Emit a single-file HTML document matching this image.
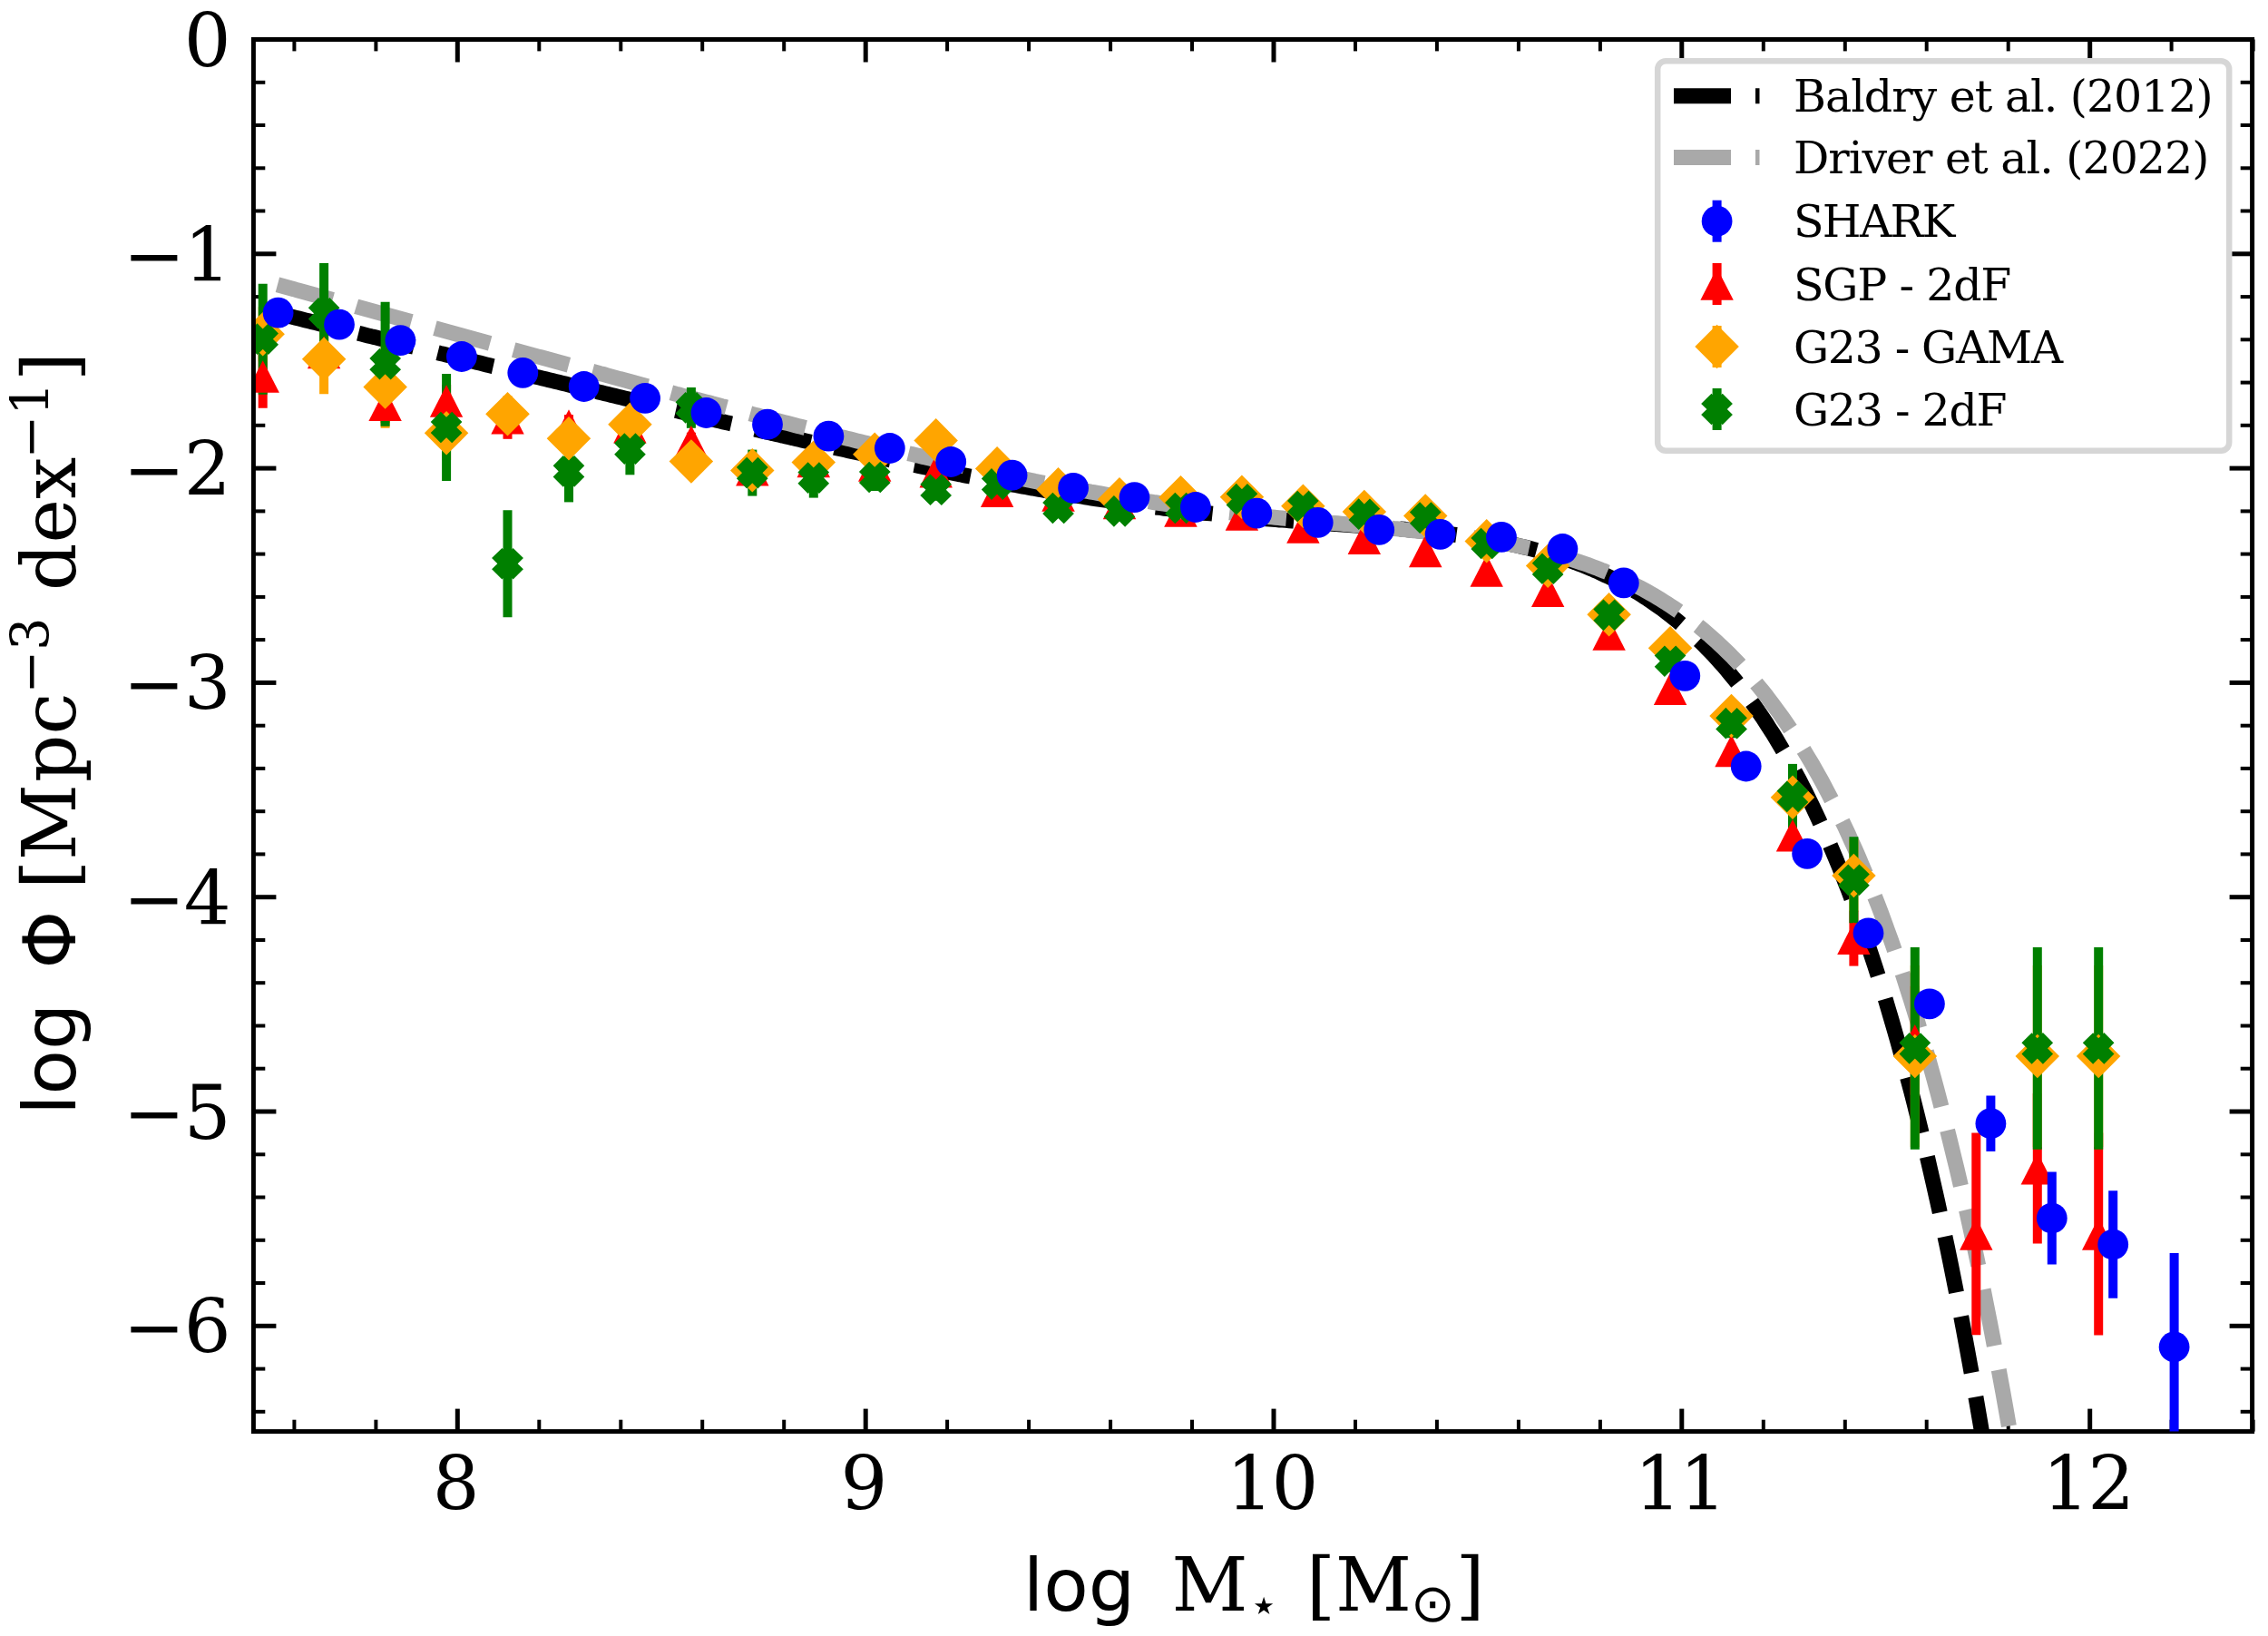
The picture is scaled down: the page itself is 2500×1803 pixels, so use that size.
<!DOCTYPE html>
<html><head><meta charset="utf-8"><title>Stellar mass function</title>
<style>html,body{margin:0;padding:0;background:#fff}svg{display:block}text{fill:#000}</style></head>
<body><svg width="2500" height="1803" viewBox="0 0 2500 1803">
<rect width="2500" height="1803" fill="#fff"/>
<defs><clipPath id="ax"><rect x="279.4" y="43.5" width="2203.2" height="1534.1"/></clipPath></defs>
<line x1="324.4" x2="324.4" y1="43.5" y2="56.4" stroke="#000" stroke-width="4.0"/>
<line x1="324.4" x2="324.4" y1="1577.6" y2="1564.6999999999998" stroke="#000" stroke-width="4.0"/>
<line x1="414.4" x2="414.4" y1="43.5" y2="56.4" stroke="#000" stroke-width="4.0"/>
<line x1="414.4" x2="414.4" y1="1577.6" y2="1564.6999999999998" stroke="#000" stroke-width="4.0"/>
<line x1="504.3" x2="504.3" y1="43.5" y2="68.5" stroke="#000" stroke-width="5.0"/>
<line x1="504.3" x2="504.3" y1="1577.6" y2="1552.6" stroke="#000" stroke-width="5.0"/>
<line x1="594.3" x2="594.3" y1="43.5" y2="56.4" stroke="#000" stroke-width="4.0"/>
<line x1="594.3" x2="594.3" y1="1577.6" y2="1564.6999999999998" stroke="#000" stroke-width="4.0"/>
<line x1="684.3" x2="684.3" y1="43.5" y2="56.4" stroke="#000" stroke-width="4.0"/>
<line x1="684.3" x2="684.3" y1="1577.6" y2="1564.6999999999998" stroke="#000" stroke-width="4.0"/>
<line x1="774.2" x2="774.2" y1="43.5" y2="56.4" stroke="#000" stroke-width="4.0"/>
<line x1="774.2" x2="774.2" y1="1577.6" y2="1564.6999999999998" stroke="#000" stroke-width="4.0"/>
<line x1="864.2" x2="864.2" y1="43.5" y2="56.4" stroke="#000" stroke-width="4.0"/>
<line x1="864.2" x2="864.2" y1="1577.6" y2="1564.6999999999998" stroke="#000" stroke-width="4.0"/>
<line x1="954.2" x2="954.2" y1="43.5" y2="68.5" stroke="#000" stroke-width="5.0"/>
<line x1="954.2" x2="954.2" y1="1577.6" y2="1552.6" stroke="#000" stroke-width="5.0"/>
<line x1="1044.1" x2="1044.1" y1="43.5" y2="56.4" stroke="#000" stroke-width="4.0"/>
<line x1="1044.1" x2="1044.1" y1="1577.6" y2="1564.6999999999998" stroke="#000" stroke-width="4.0"/>
<line x1="1134.1" x2="1134.1" y1="43.5" y2="56.4" stroke="#000" stroke-width="4.0"/>
<line x1="1134.1" x2="1134.1" y1="1577.6" y2="1564.6999999999998" stroke="#000" stroke-width="4.0"/>
<line x1="1224.1" x2="1224.1" y1="43.5" y2="56.4" stroke="#000" stroke-width="4.0"/>
<line x1="1224.1" x2="1224.1" y1="1577.6" y2="1564.6999999999998" stroke="#000" stroke-width="4.0"/>
<line x1="1314.0" x2="1314.0" y1="43.5" y2="56.4" stroke="#000" stroke-width="4.0"/>
<line x1="1314.0" x2="1314.0" y1="1577.6" y2="1564.6999999999998" stroke="#000" stroke-width="4.0"/>
<line x1="1404.0" x2="1404.0" y1="43.5" y2="68.5" stroke="#000" stroke-width="5.0"/>
<line x1="1404.0" x2="1404.0" y1="1577.6" y2="1552.6" stroke="#000" stroke-width="5.0"/>
<line x1="1494.0" x2="1494.0" y1="43.5" y2="56.4" stroke="#000" stroke-width="4.0"/>
<line x1="1494.0" x2="1494.0" y1="1577.6" y2="1564.6999999999998" stroke="#000" stroke-width="4.0"/>
<line x1="1583.9" x2="1583.9" y1="43.5" y2="56.4" stroke="#000" stroke-width="4.0"/>
<line x1="1583.9" x2="1583.9" y1="1577.6" y2="1564.6999999999998" stroke="#000" stroke-width="4.0"/>
<line x1="1673.9" x2="1673.9" y1="43.5" y2="56.4" stroke="#000" stroke-width="4.0"/>
<line x1="1673.9" x2="1673.9" y1="1577.6" y2="1564.6999999999998" stroke="#000" stroke-width="4.0"/>
<line x1="1763.9" x2="1763.9" y1="43.5" y2="56.4" stroke="#000" stroke-width="4.0"/>
<line x1="1763.9" x2="1763.9" y1="1577.6" y2="1564.6999999999998" stroke="#000" stroke-width="4.0"/>
<line x1="1853.8" x2="1853.8" y1="43.5" y2="68.5" stroke="#000" stroke-width="5.0"/>
<line x1="1853.8" x2="1853.8" y1="1577.6" y2="1552.6" stroke="#000" stroke-width="5.0"/>
<line x1="1943.8" x2="1943.8" y1="43.5" y2="56.4" stroke="#000" stroke-width="4.0"/>
<line x1="1943.8" x2="1943.8" y1="1577.6" y2="1564.6999999999998" stroke="#000" stroke-width="4.0"/>
<line x1="2033.8" x2="2033.8" y1="43.5" y2="56.4" stroke="#000" stroke-width="4.0"/>
<line x1="2033.8" x2="2033.8" y1="1577.6" y2="1564.6999999999998" stroke="#000" stroke-width="4.0"/>
<line x1="2123.7" x2="2123.7" y1="43.5" y2="56.4" stroke="#000" stroke-width="4.0"/>
<line x1="2123.7" x2="2123.7" y1="1577.6" y2="1564.6999999999998" stroke="#000" stroke-width="4.0"/>
<line x1="2213.7" x2="2213.7" y1="43.5" y2="56.4" stroke="#000" stroke-width="4.0"/>
<line x1="2213.7" x2="2213.7" y1="1577.6" y2="1564.6999999999998" stroke="#000" stroke-width="4.0"/>
<line x1="2303.7" x2="2303.7" y1="43.5" y2="68.5" stroke="#000" stroke-width="5.0"/>
<line x1="2303.7" x2="2303.7" y1="1577.6" y2="1552.6" stroke="#000" stroke-width="5.0"/>
<line x1="2393.6" x2="2393.6" y1="43.5" y2="56.4" stroke="#000" stroke-width="4.0"/>
<line x1="2393.6" x2="2393.6" y1="1577.6" y2="1564.6999999999998" stroke="#000" stroke-width="4.0"/>
<line x1="2483.6" x2="2483.6" y1="43.5" y2="56.4" stroke="#000" stroke-width="4.0"/>
<line x1="2483.6" x2="2483.6" y1="1577.6" y2="1564.6999999999998" stroke="#000" stroke-width="4.0"/>
<line x1="279.4" x2="304.4" y1="43.5" y2="43.5" stroke="#000" stroke-width="5.0"/>
<line x1="2482.6" x2="2457.6" y1="43.5" y2="43.5" stroke="#000" stroke-width="5.0"/>
<line x1="279.4" x2="292.29999999999995" y1="90.8" y2="90.8" stroke="#000" stroke-width="4.0"/>
<line x1="2482.6" x2="2469.7" y1="90.8" y2="90.8" stroke="#000" stroke-width="4.0"/>
<line x1="279.4" x2="292.29999999999995" y1="138.0" y2="138.0" stroke="#000" stroke-width="4.0"/>
<line x1="2482.6" x2="2469.7" y1="138.0" y2="138.0" stroke="#000" stroke-width="4.0"/>
<line x1="279.4" x2="292.29999999999995" y1="185.3" y2="185.3" stroke="#000" stroke-width="4.0"/>
<line x1="2482.6" x2="2469.7" y1="185.3" y2="185.3" stroke="#000" stroke-width="4.0"/>
<line x1="279.4" x2="292.29999999999995" y1="232.5" y2="232.5" stroke="#000" stroke-width="4.0"/>
<line x1="2482.6" x2="2469.7" y1="232.5" y2="232.5" stroke="#000" stroke-width="4.0"/>
<line x1="279.4" x2="304.4" y1="279.8" y2="279.8" stroke="#000" stroke-width="5.0"/>
<line x1="2482.6" x2="2457.6" y1="279.8" y2="279.8" stroke="#000" stroke-width="5.0"/>
<line x1="279.4" x2="292.29999999999995" y1="327.1" y2="327.1" stroke="#000" stroke-width="4.0"/>
<line x1="2482.6" x2="2469.7" y1="327.1" y2="327.1" stroke="#000" stroke-width="4.0"/>
<line x1="279.4" x2="292.29999999999995" y1="374.3" y2="374.3" stroke="#000" stroke-width="4.0"/>
<line x1="2482.6" x2="2469.7" y1="374.3" y2="374.3" stroke="#000" stroke-width="4.0"/>
<line x1="279.4" x2="292.29999999999995" y1="421.6" y2="421.6" stroke="#000" stroke-width="4.0"/>
<line x1="2482.6" x2="2469.7" y1="421.6" y2="421.6" stroke="#000" stroke-width="4.0"/>
<line x1="279.4" x2="292.29999999999995" y1="468.8" y2="468.8" stroke="#000" stroke-width="4.0"/>
<line x1="2482.6" x2="2469.7" y1="468.8" y2="468.8" stroke="#000" stroke-width="4.0"/>
<line x1="279.4" x2="304.4" y1="516.1" y2="516.1" stroke="#000" stroke-width="5.0"/>
<line x1="2482.6" x2="2457.6" y1="516.1" y2="516.1" stroke="#000" stroke-width="5.0"/>
<line x1="279.4" x2="292.29999999999995" y1="563.4" y2="563.4" stroke="#000" stroke-width="4.0"/>
<line x1="2482.6" x2="2469.7" y1="563.4" y2="563.4" stroke="#000" stroke-width="4.0"/>
<line x1="279.4" x2="292.29999999999995" y1="610.6" y2="610.6" stroke="#000" stroke-width="4.0"/>
<line x1="2482.6" x2="2469.7" y1="610.6" y2="610.6" stroke="#000" stroke-width="4.0"/>
<line x1="279.4" x2="292.29999999999995" y1="657.9" y2="657.9" stroke="#000" stroke-width="4.0"/>
<line x1="2482.6" x2="2469.7" y1="657.9" y2="657.9" stroke="#000" stroke-width="4.0"/>
<line x1="279.4" x2="292.29999999999995" y1="705.1" y2="705.1" stroke="#000" stroke-width="4.0"/>
<line x1="2482.6" x2="2469.7" y1="705.1" y2="705.1" stroke="#000" stroke-width="4.0"/>
<line x1="279.4" x2="304.4" y1="752.4" y2="752.4" stroke="#000" stroke-width="5.0"/>
<line x1="2482.6" x2="2457.6" y1="752.4" y2="752.4" stroke="#000" stroke-width="5.0"/>
<line x1="279.4" x2="292.29999999999995" y1="799.7" y2="799.7" stroke="#000" stroke-width="4.0"/>
<line x1="2482.6" x2="2469.7" y1="799.7" y2="799.7" stroke="#000" stroke-width="4.0"/>
<line x1="279.4" x2="292.29999999999995" y1="846.9" y2="846.9" stroke="#000" stroke-width="4.0"/>
<line x1="2482.6" x2="2469.7" y1="846.9" y2="846.9" stroke="#000" stroke-width="4.0"/>
<line x1="279.4" x2="292.29999999999995" y1="894.2" y2="894.2" stroke="#000" stroke-width="4.0"/>
<line x1="2482.6" x2="2469.7" y1="894.2" y2="894.2" stroke="#000" stroke-width="4.0"/>
<line x1="279.4" x2="292.29999999999995" y1="941.4" y2="941.4" stroke="#000" stroke-width="4.0"/>
<line x1="2482.6" x2="2469.7" y1="941.4" y2="941.4" stroke="#000" stroke-width="4.0"/>
<line x1="279.4" x2="304.4" y1="988.7" y2="988.7" stroke="#000" stroke-width="5.0"/>
<line x1="2482.6" x2="2457.6" y1="988.7" y2="988.7" stroke="#000" stroke-width="5.0"/>
<line x1="279.4" x2="292.29999999999995" y1="1036.0" y2="1036.0" stroke="#000" stroke-width="4.0"/>
<line x1="2482.6" x2="2469.7" y1="1036.0" y2="1036.0" stroke="#000" stroke-width="4.0"/>
<line x1="279.4" x2="292.29999999999995" y1="1083.2" y2="1083.2" stroke="#000" stroke-width="4.0"/>
<line x1="2482.6" x2="2469.7" y1="1083.2" y2="1083.2" stroke="#000" stroke-width="4.0"/>
<line x1="279.4" x2="292.29999999999995" y1="1130.5" y2="1130.5" stroke="#000" stroke-width="4.0"/>
<line x1="2482.6" x2="2469.7" y1="1130.5" y2="1130.5" stroke="#000" stroke-width="4.0"/>
<line x1="279.4" x2="292.29999999999995" y1="1177.7" y2="1177.7" stroke="#000" stroke-width="4.0"/>
<line x1="2482.6" x2="2469.7" y1="1177.7" y2="1177.7" stroke="#000" stroke-width="4.0"/>
<line x1="279.4" x2="304.4" y1="1225.0" y2="1225.0" stroke="#000" stroke-width="5.0"/>
<line x1="2482.6" x2="2457.6" y1="1225.0" y2="1225.0" stroke="#000" stroke-width="5.0"/>
<line x1="279.4" x2="292.29999999999995" y1="1272.3" y2="1272.3" stroke="#000" stroke-width="4.0"/>
<line x1="2482.6" x2="2469.7" y1="1272.3" y2="1272.3" stroke="#000" stroke-width="4.0"/>
<line x1="279.4" x2="292.29999999999995" y1="1319.5" y2="1319.5" stroke="#000" stroke-width="4.0"/>
<line x1="2482.6" x2="2469.7" y1="1319.5" y2="1319.5" stroke="#000" stroke-width="4.0"/>
<line x1="279.4" x2="292.29999999999995" y1="1366.8" y2="1366.8" stroke="#000" stroke-width="4.0"/>
<line x1="2482.6" x2="2469.7" y1="1366.8" y2="1366.8" stroke="#000" stroke-width="4.0"/>
<line x1="279.4" x2="292.29999999999995" y1="1414.0" y2="1414.0" stroke="#000" stroke-width="4.0"/>
<line x1="2482.6" x2="2469.7" y1="1414.0" y2="1414.0" stroke="#000" stroke-width="4.0"/>
<line x1="279.4" x2="304.4" y1="1461.3" y2="1461.3" stroke="#000" stroke-width="5.0"/>
<line x1="2482.6" x2="2457.6" y1="1461.3" y2="1461.3" stroke="#000" stroke-width="5.0"/>
<line x1="279.4" x2="292.29999999999995" y1="1508.6" y2="1508.6" stroke="#000" stroke-width="4.0"/>
<line x1="2482.6" x2="2469.7" y1="1508.6" y2="1508.6" stroke="#000" stroke-width="4.0"/>
<line x1="279.4" x2="292.29999999999995" y1="1555.8" y2="1555.8" stroke="#000" stroke-width="4.0"/>
<line x1="2482.6" x2="2469.7" y1="1555.8" y2="1555.8" stroke="#000" stroke-width="4.0"/>
<g clip-path="url(#ax)">
<polyline points="307.7,345.8 311.4,346.7 315.0,347.6 318.6,348.4 322.2,349.3 325.9,350.2 329.5,351.1 333.1,352.0 336.8,352.9 340.4,353.8 344.0,354.7 347.6,355.6 351.3,356.5 354.9,357.4 358.5,358.3 362.1,359.2 365.8,360.1 369.4,360.9 373.0,361.8 376.6,362.7 380.3,363.6 383.9,364.5 387.5,365.4 391.1,366.3 394.8,367.2 398.4,368.1 402.0,369.0 405.7,369.9 409.3,370.8 412.9,371.6 416.5,372.5 420.2,373.4 423.8,374.3 427.4,375.2 431.0,376.1 434.7,377.0 438.3,377.9 441.9,378.8 445.5,379.7 449.2,380.6 452.8,381.4 456.4,382.3 460.1,383.2 463.7,384.1 467.3,385.0 470.9,385.9 474.6,386.8 478.2,387.7 481.8,388.6 485.4,389.5 489.1,390.3 492.7,391.2 496.3,392.1 499.9,393.0 503.6,393.9 507.2,394.8 510.8,395.7 514.4,396.6 518.1,397.4 521.7,398.3 525.3,399.2 529.0,400.1 532.6,401.0 536.2,401.9 539.8,402.8 543.5,403.7 547.1,404.5 550.7,405.4 554.3,406.3 558.0,407.2 561.6,408.1 565.2,409.0 568.8,409.9 572.5,410.7 576.1,411.6 579.7,412.5 583.4,413.4 587.0,414.3 590.6,415.2 594.2,416.0 597.9,416.9 601.5,417.8 605.1,418.7 608.7,419.6 612.4,420.5 616.0,421.3 619.6,422.2 623.2,423.1 626.9,424.0 630.5,424.9 634.1,425.7 637.7,426.6 641.4,427.5 645.0,428.4 648.6,429.3 652.3,430.1 655.9,431.0 659.5,431.9 663.1,432.8 666.8,433.7 670.4,434.5 674.0,435.4 677.6,436.3 681.3,437.2 684.9,438.0 688.5,438.9 692.1,439.8 695.8,440.7 699.4,441.5 703.0,442.4 706.7,443.3 710.3,444.1 713.9,445.0 717.5,445.9 721.2,446.8 724.8,447.6 728.4,448.5 732.0,449.4 735.7,450.2 739.3,451.1 742.9,452.0 746.5,452.8 750.2,453.7 753.8,454.6 757.4,455.4 761.0,456.3 764.7,457.2 768.3,458.0 771.9,458.9 775.6,459.7 779.2,460.6 782.8,461.5 786.4,462.3 790.1,463.2 793.7,464.0 797.3,464.9 800.9,465.7 804.6,466.6 808.2,467.4 811.8,468.3 815.4,469.2 819.1,470.0 822.7,470.9 826.3,471.7 830.0,472.5 833.6,473.4 837.2,474.2 840.8,475.1 844.5,475.9 848.1,476.8 851.7,477.6 855.3,478.5 859.0,479.3 862.6,480.1 866.2,481.0 869.8,481.8 873.5,482.6 877.1,483.5 880.7,484.3 884.3,485.1 888.0,486.0 891.6,486.8 895.2,487.6 898.9,488.4 902.5,489.3 906.1,490.1 909.7,490.9 913.4,491.7 917.0,492.5 920.6,493.4 924.2,494.2 927.9,495.0 931.5,495.8 935.1,496.6 938.7,497.4 942.4,498.2 946.0,499.0 949.6,499.8 953.2,500.6 956.9,501.4 960.5,502.2 964.1,503.0 967.8,503.8 971.4,504.6 975.0,505.4 978.6,506.2 982.3,507.0 985.9,507.7 989.5,508.5 993.1,509.3 996.8,510.1 1000.4,510.8 1004.0,511.6 1007.6,512.4 1011.3,513.1 1014.9,513.9 1018.5,514.7 1022.2,515.4 1025.8,516.2 1029.4,516.9 1033.0,517.7 1036.7,518.4 1040.3,519.2 1043.9,519.9 1047.5,520.6 1051.2,521.4 1054.8,522.1 1058.4,522.8 1062.0,523.6 1065.7,524.3 1069.3,525.0 1072.9,525.7 1076.5,526.4 1080.2,527.2 1083.8,527.9 1087.4,528.6 1091.1,529.3 1094.7,530.0 1098.3,530.7 1101.9,531.3 1105.6,532.0 1109.2,532.7 1112.8,533.4 1116.4,534.1 1120.1,534.7 1123.7,535.4 1127.3,536.1 1130.9,536.7 1134.6,537.4 1138.2,538.0 1141.8,538.7 1145.5,539.3 1149.1,539.9 1152.7,540.6 1156.3,541.2 1160.0,541.8 1163.6,542.5 1167.2,543.1 1170.8,543.7 1174.5,544.3 1178.1,544.9 1181.7,545.5 1185.3,546.1 1189.0,546.7 1192.6,547.2 1196.2,547.8 1199.8,548.4 1203.5,549.0 1207.1,549.5 1210.7,550.1 1214.4,550.6 1218.0,551.2 1221.6,551.7 1225.2,552.3 1228.9,552.8 1232.5,553.3 1236.1,553.9 1239.7,554.4 1243.4,554.9 1247.0,555.4 1250.6,555.9 1254.2,556.4 1257.9,556.9 1261.5,557.4 1265.1,557.8 1268.8,558.3 1272.4,558.8 1276.0,559.2 1279.6,559.7 1283.3,560.2 1286.9,560.6 1290.5,561.0 1294.1,561.5 1297.8,561.9 1301.4,562.3 1305.0,562.8 1308.6,563.2 1312.3,563.6 1315.9,564.0 1319.5,564.4 1323.1,564.8 1326.8,565.2 1330.4,565.6 1334.0,565.9 1337.7,566.3 1341.3,566.7 1344.9,567.1 1348.5,567.4 1352.2,567.8 1355.8,568.1 1359.4,568.5 1363.0,568.8 1366.7,569.1 1370.3,569.5 1373.9,569.8 1377.5,570.1 1381.2,570.4 1384.8,570.8 1388.4,571.1 1392.1,571.4 1395.7,571.7 1399.3,572.0 1402.9,572.3 1406.6,572.6 1410.2,572.9 1413.8,573.1 1417.4,573.4 1421.1,573.7 1424.7,574.0 1428.3,574.3 1431.9,574.5 1435.6,574.8 1439.2,575.1 1442.8,575.3 1446.4,575.6 1450.1,575.9 1453.7,576.1 1457.3,576.4 1461.0,576.7 1464.6,576.9 1468.2,577.2 1471.8,577.4 1475.5,577.7 1479.1,578.0 1482.7,578.2 1486.3,578.5 1490.0,578.7 1493.6,579.0 1497.2,579.3 1500.8,579.5 1504.5,579.8 1508.1,580.1 1511.7,580.4 1515.4,580.6 1519.0,580.9 1522.6,581.2 1526.2,581.5 1529.9,581.8 1533.5,582.1 1537.1,582.4 1540.7,582.7 1544.4,583.0 1548.0,583.3 1551.6,583.7 1555.2,584.0 1558.9,584.3 1562.5,584.7 1566.1,585.0 1569.7,585.4 1573.4,585.8 1577.0,586.2 1580.6,586.6 1584.3,587.0 1587.9,587.4 1591.5,587.8 1595.1,588.2 1598.8,588.7 1602.4,589.1 1606.0,589.6 1609.6,590.1 1613.3,590.6 1616.9,591.1 1620.5,591.6 1624.1,592.2 1627.8,592.7 1631.4,593.3 1635.0,593.9 1638.7,594.5 1642.3,595.2 1645.9,595.8 1649.5,596.5 1653.2,597.2 1656.8,597.9 1660.4,598.6 1664.0,599.3 1667.7,600.1 1671.3,600.9 1674.9,601.7 1678.5,602.6 1682.2,603.4 1685.8,604.3 1689.4,605.3 1693.0,606.2 1696.7,607.2 1700.3,608.2 1703.9,609.2 1707.6,610.3 1711.2,611.4 1714.8,612.5 1718.4,613.6 1722.1,614.8 1725.7,616.1 1729.3,617.3 1732.9,618.6 1736.6,619.9 1740.2,621.3 1743.8,622.7 1747.4,624.1 1751.1,625.6 1754.7,627.1 1758.3,628.7 1762.0,630.3 1765.6,632.0 1769.2,633.7 1772.8,635.4 1776.5,637.2 1780.1,639.0 1783.7,640.9 1787.3,642.8 1791.0,644.8 1794.6,646.9 1798.2,649.0 1801.8,651.1 1805.5,653.3 1809.1,655.5 1812.7,657.9 1816.3,660.2 1820.0,662.7 1823.6,665.2 1827.2,667.7 1830.9,670.3 1834.5,673.0 1838.1,675.8 1841.7,678.6 1845.4,681.5 1849.0,684.4 1852.6,687.5 1856.2,690.6 1859.9,693.7 1863.5,697.0 1867.1,700.3 1870.7,703.8 1874.4,707.2 1878.0,710.8 1881.6,714.5 1885.3,718.2 1888.9,722.1 1892.5,726.0 1896.1,730.0 1899.8,734.1 1903.4,738.4 1907.0,742.7 1910.6,747.1 1914.3,751.6 1917.9,756.2 1921.5,760.9 1925.1,765.7 1928.8,770.7 1932.4,775.7 1936.0,780.9 1939.6,786.1 1943.3,791.5 1946.9,797.0 1950.5,802.7 1954.2,808.4 1957.8,814.3 1961.4,820.3 1965.0,826.5 1968.7,832.7 1972.3,839.2 1975.9,845.7 1979.5,852.4 1983.2,859.3 1986.8,866.3 1990.4,873.4 1994.0,880.7 1997.7,888.2 2001.3,895.8 2004.9,903.6 2008.5,911.5 2012.2,919.7 2015.8,927.9 2019.4,936.4 2023.1,945.1 2026.7,953.9 2030.3,962.9 2033.9,972.1 2037.6,981.5 2041.2,991.1 2044.8,1000.9 2048.4,1010.9 2052.1,1021.1 2055.7,1031.5 2059.3,1042.2 2062.9,1053.0 2066.6,1064.1 2070.2,1075.4 2073.8,1086.9 2077.5,1098.7 2081.1,1110.8 2084.7,1123.0 2088.3,1135.5 2092.0,1148.3 2095.6,1161.4 2099.2,1174.7 2102.8,1188.2 2106.5,1202.1 2110.1,1216.2 2113.7,1230.6 2117.3,1245.3 2121.0,1260.3 2124.6,1275.7 2128.2,1291.3 2131.8,1307.2 2135.5,1323.5 2139.1,1340.0 2142.7,1357.0 2146.4,1374.2 2150.0,1391.8 2153.6,1409.7 2157.2,1428.0 2160.9,1446.7 2164.5,1465.8 2168.1,1485.2 2171.7,1505.0 2175.4,1525.2 2179.0,1545.8 2182.6,1566.8 2186.2,1588.2 2189.9,1610.1 2193.5,1632.4 2197.1,1655.1 2200.8,1678.2 2204.4,1701.9 2208.0,1725.9 2211.6,1750.5" fill="none" stroke="#000" stroke-width="17" stroke-dasharray="63 27"/>
<polyline points="305.9,313.7 309.6,314.7 313.2,315.7 316.8,316.7 320.5,317.7 324.1,318.7 327.7,319.8 331.3,320.8 335.0,321.8 338.6,322.8 342.2,323.8 345.9,324.8 349.5,325.8 353.1,326.8 356.8,327.8 360.4,328.8 364.0,329.8 367.6,330.8 371.3,331.8 374.9,332.8 378.5,333.8 382.2,334.8 385.8,335.8 389.4,336.8 393.0,337.9 396.7,338.9 400.3,339.9 403.9,340.9 407.6,341.9 411.2,342.9 414.8,343.9 418.5,344.9 422.1,345.9 425.7,346.9 429.3,347.9 433.0,348.9 436.6,349.9 440.2,350.9 443.9,351.9 447.5,352.9 451.1,353.9 454.7,354.9 458.4,355.9 462.0,356.9 465.6,357.9 469.3,358.9 472.9,359.9 476.5,360.9 480.2,361.9 483.8,362.9 487.4,363.9 491.0,364.9 494.7,365.9 498.3,366.9 501.9,367.9 505.6,368.9 509.2,369.9 512.8,370.9 516.4,371.9 520.1,372.9 523.7,373.9 527.3,374.9 531.0,375.9 534.6,376.9 538.2,377.9 541.9,378.9 545.5,379.9 549.1,380.9 552.7,381.9 556.4,382.9 560.0,383.9 563.6,384.9 567.3,385.9 570.9,386.9 574.5,387.9 578.1,388.9 581.8,389.9 585.4,390.9 589.0,391.9 592.7,392.9 596.3,393.8 599.9,394.8 603.6,395.8 607.2,396.8 610.8,397.8 614.4,398.8 618.1,399.8 621.7,400.8 625.3,401.8 629.0,402.8 632.6,403.8 636.2,404.7 639.9,405.7 643.5,406.7 647.1,407.7 650.7,408.7 654.4,409.7 658.0,410.7 661.6,411.7 665.3,412.6 668.9,413.6 672.5,414.6 676.1,415.6 679.8,416.6 683.4,417.6 687.0,418.5 690.7,419.5 694.3,420.5 697.9,421.5 701.6,422.5 705.2,423.4 708.8,424.4 712.4,425.4 716.1,426.4 719.7,427.3 723.3,428.3 727.0,429.3 730.6,430.3 734.2,431.2 737.8,432.2 741.5,433.2 745.1,434.2 748.7,435.1 752.4,436.1 756.0,437.1 759.6,438.0 763.3,439.0 766.9,440.0 770.5,440.9 774.1,441.9 777.8,442.9 781.4,443.8 785.0,444.8 788.7,445.7 792.3,446.7 795.9,447.7 799.5,448.6 803.2,449.6 806.8,450.5 810.4,451.5 814.1,452.4 817.7,453.4 821.3,454.4 825.0,455.3 828.6,456.3 832.2,457.2 835.8,458.1 839.5,459.1 843.1,460.0 846.7,461.0 850.4,461.9 854.0,462.9 857.6,463.8 861.2,464.7 864.9,465.7 868.5,466.6 872.1,467.5 875.8,468.5 879.4,469.4 883.0,470.3 886.7,471.3 890.3,472.2 893.9,473.1 897.5,474.0 901.2,475.0 904.8,475.9 908.4,476.8 912.1,477.7 915.7,478.6 919.3,479.5 922.9,480.5 926.6,481.4 930.2,482.3 933.8,483.2 937.5,484.1 941.1,485.0 944.7,485.9 948.4,486.8 952.0,487.7 955.6,488.6 959.2,489.5 962.9,490.3 966.5,491.2 970.1,492.1 973.8,493.0 977.4,493.9 981.0,494.7 984.6,495.6 988.3,496.5 991.9,497.4 995.5,498.2 999.2,499.1 1002.8,500.0 1006.4,500.8 1010.1,501.7 1013.7,502.5 1017.3,503.4 1020.9,504.2 1024.6,505.1 1028.2,505.9 1031.8,506.8 1035.5,507.6 1039.1,508.4 1042.7,509.3 1046.4,510.1 1050.0,510.9 1053.6,511.7 1057.2,512.5 1060.9,513.4 1064.5,514.2 1068.1,515.0 1071.8,515.8 1075.4,516.6 1079.0,517.4 1082.6,518.2 1086.3,519.0 1089.9,519.8 1093.5,520.5 1097.2,521.3 1100.8,522.1 1104.4,522.9 1108.1,523.6 1111.7,524.4 1115.3,525.2 1118.9,525.9 1122.6,526.7 1126.2,527.4 1129.8,528.1 1133.5,528.9 1137.1,529.6 1140.7,530.4 1144.3,531.1 1148.0,531.8 1151.6,532.5 1155.2,533.2 1158.9,533.9 1162.5,534.6 1166.1,535.3 1169.8,536.0 1173.4,536.7 1177.0,537.4 1180.6,538.1 1184.3,538.8 1187.9,539.4 1191.5,540.1 1195.2,540.8 1198.8,541.4 1202.4,542.1 1206.0,542.7 1209.7,543.4 1213.3,544.0 1216.9,544.6 1220.6,545.3 1224.2,545.9 1227.8,546.5 1231.5,547.1 1235.1,547.7 1238.7,548.3 1242.3,548.9 1246.0,549.5 1249.6,550.1 1253.2,550.7 1256.9,551.2 1260.5,551.8 1264.1,552.4 1267.7,552.9 1271.4,553.5 1275.0,554.0 1278.6,554.6 1282.3,555.1 1285.9,555.6 1289.5,556.1 1293.2,556.7 1296.8,557.2 1300.4,557.7 1304.0,558.2 1307.7,558.7 1311.3,559.2 1314.9,559.7 1318.6,560.2 1322.2,560.6 1325.8,561.1 1329.4,561.6 1333.1,562.0 1336.7,562.5 1340.3,562.9 1344.0,563.4 1347.6,563.8 1351.2,564.3 1354.9,564.7 1358.5,565.1 1362.1,565.5 1365.7,566.0 1369.4,566.4 1373.0,566.8 1376.6,567.2 1380.3,567.6 1383.9,568.0 1387.5,568.4 1391.1,568.8 1394.8,569.1 1398.4,569.5 1402.0,569.9 1405.7,570.3 1409.3,570.6 1412.9,571.0 1416.6,571.4 1420.2,571.7 1423.8,572.1 1427.4,572.4 1431.1,572.8 1434.7,573.1 1438.3,573.5 1442.0,573.8 1445.6,574.2 1449.2,574.5 1452.8,574.8 1456.5,575.2 1460.1,575.5 1463.7,575.8 1467.4,576.2 1471.0,576.5 1474.6,576.8 1478.3,577.1 1481.9,577.5 1485.5,577.8 1489.1,578.1 1492.8,578.5 1496.4,578.8 1500.0,579.1 1503.7,579.4 1507.3,579.8 1510.9,580.1 1514.6,580.4 1518.2,580.8 1521.8,581.1 1525.4,581.5 1529.1,581.8 1532.7,582.1 1536.3,582.5 1540.0,582.8 1543.6,583.2 1547.2,583.6 1550.8,583.9 1554.5,584.3 1558.1,584.7 1561.7,585.1 1565.4,585.4 1569.0,585.8 1572.6,586.2 1576.3,586.6 1579.9,587.1 1583.5,587.5 1587.1,587.9 1590.8,588.3 1594.4,588.8 1598.0,589.2 1601.7,589.7 1605.3,590.2 1608.9,590.7 1612.5,591.2 1616.2,591.7 1619.8,592.2 1623.4,592.7 1627.1,593.3 1630.7,593.8 1634.3,594.4 1638.0,595.0 1641.6,595.6 1645.2,596.2 1648.8,596.8 1652.5,597.4 1656.1,598.1 1659.7,598.8 1663.4,599.4 1667.0,600.2 1670.6,600.9 1674.2,601.6 1677.9,602.4 1681.5,603.2 1685.1,604.0 1688.8,604.8 1692.4,605.6 1696.0,606.5 1699.7,607.4 1703.3,608.3 1706.9,609.3 1710.5,610.2 1714.2,611.2 1717.8,612.2 1721.4,613.3 1725.1,614.3 1728.7,615.4 1732.3,616.5 1735.9,617.7 1739.6,618.9 1743.2,620.1 1746.8,621.3 1750.5,622.6 1754.1,623.9 1757.7,625.3 1761.4,626.6 1765.0,628.1 1768.6,629.5 1772.2,631.0 1775.9,632.5 1779.5,634.1 1783.1,635.7 1786.8,637.3 1790.4,639.0 1794.0,640.7 1797.6,642.5 1801.3,644.3 1804.9,646.2 1808.5,648.1 1812.2,650.0 1815.8,652.0 1819.4,654.1 1823.1,656.2 1826.7,658.3 1830.3,660.5 1833.9,662.8 1837.6,665.1 1841.2,667.5 1844.8,669.9 1848.5,672.4 1852.1,674.9 1855.7,677.5 1859.3,680.2 1863.0,682.9 1866.6,685.7 1870.2,688.5 1873.9,691.4 1877.5,694.4 1881.1,697.5 1884.8,700.6 1888.4,703.8 1892.0,707.1 1895.6,710.4 1899.3,713.9 1902.9,717.4 1906.5,720.9 1910.2,724.6 1913.8,728.4 1917.4,732.2 1921.0,736.1 1924.7,740.1 1928.3,744.2 1931.9,748.4 1935.6,752.7 1939.2,757.1 1942.8,761.5 1946.5,766.1 1950.1,770.8 1953.7,775.6 1957.3,780.5 1961.0,785.4 1964.6,790.5 1968.2,795.7 1971.9,801.1 1975.5,806.5 1979.1,812.1 1982.8,817.7 1986.4,823.5 1990.0,829.5 1993.6,835.5 1997.3,841.7 2000.9,848.0 2004.5,854.4 2008.2,861.0 2011.8,867.7 2015.4,874.6 2019.0,881.6 2022.7,888.8 2026.3,896.1 2029.9,903.5 2033.6,911.1 2037.2,918.9 2040.8,926.9 2044.5,935.0 2048.1,943.2 2051.7,951.7 2055.3,960.3 2059.0,969.1 2062.6,978.1 2066.2,987.2 2069.9,996.6 2073.5,1006.1 2077.1,1015.9 2080.7,1025.8 2084.4,1035.9 2088.0,1046.3 2091.6,1056.9 2095.3,1067.6 2098.9,1078.6 2102.5,1089.9 2106.2,1101.3 2109.8,1113.0 2113.4,1124.9 2117.0,1137.1 2120.7,1149.5 2124.3,1162.1 2127.9,1175.0 2131.6,1188.2 2135.2,1201.6 2138.8,1215.3 2142.4,1229.3 2146.1,1243.6 2149.7,1258.1 2153.3,1272.9 2157.0,1288.0 2160.6,1303.5 2164.2,1319.2 2167.9,1335.3 2171.5,1351.6 2175.1,1368.3 2178.7,1385.3 2182.4,1402.7 2186.0,1420.4 2189.6,1438.5 2193.3,1456.9 2196.9,1475.6 2200.5,1494.8 2204.1,1514.3 2207.8,1534.2 2211.4,1554.5 2215.0,1575.2 2218.7,1596.3 2222.3,1617.8 2225.9,1639.7 2229.6,1662.1 2233.2,1684.9 2236.8,1708.1 2240.4,1731.8 2244.1,1756.0" fill="none" stroke="#a9a9a9" stroke-width="17" stroke-dasharray="63 27"/>
<line x1="289.7" x2="289.7" y1="380.2" y2="449.8" stroke="#ff0000" stroke-width="10.0"/>
<line x1="357.1" x2="357.1" y1="366.4" y2="410.4" stroke="#ff0000" stroke-width="10.0"/>
<line x1="424.6" x2="424.6" y1="426.2" y2="466.2" stroke="#ff0000" stroke-width="10.0"/>
<line x1="492.1" x2="492.1" y1="424.0" y2="460.0" stroke="#ff0000" stroke-width="10.0"/>
<line x1="559.5" x2="559.5" y1="437.8" y2="483.8" stroke="#ff0000" stroke-width="10.0"/>
<line x1="627.0" x2="627.0" y1="457.1" y2="481.1" stroke="#ff0000" stroke-width="10.0"/>
<line x1="694.4" x2="694.4" y1="460.6" y2="480.6" stroke="#ff0000" stroke-width="10.0"/>
<line x1="761.9" x2="761.9" y1="476.7" y2="496.7" stroke="#ff0000" stroke-width="10.0"/>
<line x1="829.3" x2="829.3" y1="509.6" y2="525.6" stroke="#ff0000" stroke-width="10.0"/>
<line x1="896.8" x2="896.8" y1="500.5" y2="516.5" stroke="#ff0000" stroke-width="10.0"/>
<line x1="964.2" x2="964.2" y1="507.0" y2="519.0" stroke="#ff0000" stroke-width="10.0"/>
<line x1="1031.7" x2="1031.7" y1="513.6" y2="525.6" stroke="#ff0000" stroke-width="10.0"/>
<line x1="1099.1" x2="1099.1" y1="536.2" y2="546.2" stroke="#ff0000" stroke-width="10.0"/>
<line x1="1166.5" x2="1166.5" y1="541.0" y2="551.0" stroke="#ff0000" stroke-width="10.0"/>
<line x1="1234.0" x2="1234.0" y1="549.5" y2="559.5" stroke="#ff0000" stroke-width="10.0"/>
<line x1="1301.5" x2="1301.5" y1="558.0" y2="568.0" stroke="#ff0000" stroke-width="10.0"/>
<line x1="1368.9" x2="1368.9" y1="562.0" y2="572.0" stroke="#ff0000" stroke-width="10.0"/>
<line x1="1436.4" x2="1436.4" y1="576.0" y2="586.0" stroke="#ff0000" stroke-width="10.0"/>
<line x1="1503.8" x2="1503.8" y1="588.3" y2="598.3" stroke="#ff0000" stroke-width="10.0"/>
<line x1="1571.2" x2="1571.2" y1="602.4" y2="612.4" stroke="#ff0000" stroke-width="10.0"/>
<line x1="1638.7" x2="1638.7" y1="624.0" y2="634.0" stroke="#ff0000" stroke-width="10.0"/>
<line x1="1706.2" x2="1706.2" y1="646.2" y2="656.2" stroke="#ff0000" stroke-width="10.0"/>
<line x1="1773.6" x2="1773.6" y1="694.0" y2="704.0" stroke="#ff0000" stroke-width="10.0"/>
<line x1="1841.1" x2="1841.1" y1="753.1" y2="765.1" stroke="#ff0000" stroke-width="10.0"/>
<line x1="1908.5" x2="1908.5" y1="819.5" y2="835.5" stroke="#ff0000" stroke-width="10.0"/>
<line x1="1976.0" x2="1976.0" y1="906.8" y2="934.8" stroke="#ff0000" stroke-width="10.0"/>
<line x1="2043.4" x2="2043.4" y1="1003.6" y2="1064.6" stroke="#ff0000" stroke-width="10.0"/>
<line x1="2110.8" x2="2110.8" y1="1086.7" y2="1206.7" stroke="#ff0000" stroke-width="10.0"/>
<line x1="2178.3" x2="2178.3" y1="1248.6" y2="1471.2" stroke="#ff0000" stroke-width="10.0"/>
<line x1="2245.8" x2="2245.8" y1="1205.0" y2="1370.4" stroke="#ff0000" stroke-width="10.0"/>
<line x1="2313.2" x2="2313.2" y1="1248.4" y2="1471.4" stroke="#ff0000" stroke-width="10.0"/>
<line x1="289.7" x2="289.7" y1="338.2" y2="398.2" stroke="#ffa500" stroke-width="10.0"/>
<line x1="357.1" x2="357.1" y1="357.2" y2="434.2" stroke="#ffa500" stroke-width="10.0"/>
<line x1="424.6" x2="424.6" y1="381.2" y2="471.8" stroke="#ffa500" stroke-width="10.0"/>
<line x1="492.1" x2="492.1" y1="447.3" y2="507.3" stroke="#ffa500" stroke-width="10.0"/>
<line x1="559.5" x2="559.5" y1="436.2" y2="476.2" stroke="#ffa500" stroke-width="10.0"/>
<line x1="627.0" x2="627.0" y1="465.3" y2="501.3" stroke="#ffa500" stroke-width="10.0"/>
<line x1="694.4" x2="694.4" y1="452.7" y2="482.7" stroke="#ffa500" stroke-width="10.0"/>
<line x1="761.9" x2="761.9" y1="493.5" y2="523.5" stroke="#ffa500" stroke-width="10.0"/>
<line x1="829.3" x2="829.3" y1="506.4" y2="530.4" stroke="#ffa500" stroke-width="10.0"/>
<line x1="896.8" x2="896.8" y1="499.6" y2="519.6" stroke="#ffa500" stroke-width="10.0"/>
<line x1="964.2" x2="964.2" y1="492.8" y2="508.8" stroke="#ffa500" stroke-width="10.0"/>
<line x1="1031.7" x2="1031.7" y1="477.4" y2="493.4" stroke="#ffa500" stroke-width="10.0"/>
<line x1="1099.1" x2="1099.1" y1="510.4" y2="522.4" stroke="#ffa500" stroke-width="10.0"/>
<line x1="1166.5" x2="1166.5" y1="533.4" y2="545.4" stroke="#ffa500" stroke-width="10.0"/>
<line x1="1234.0" x2="1234.0" y1="544.3" y2="556.3" stroke="#ffa500" stroke-width="10.0"/>
<line x1="1301.5" x2="1301.5" y1="542.3" y2="554.3" stroke="#ffa500" stroke-width="10.0"/>
<line x1="1368.9" x2="1368.9" y1="541.7" y2="553.7" stroke="#ffa500" stroke-width="10.0"/>
<line x1="1436.4" x2="1436.4" y1="551.7" y2="563.7" stroke="#ffa500" stroke-width="10.0"/>
<line x1="1503.8" x2="1503.8" y1="558.0" y2="570.0" stroke="#ffa500" stroke-width="10.0"/>
<line x1="1571.2" x2="1571.2" y1="562.5" y2="574.5" stroke="#ffa500" stroke-width="10.0"/>
<line x1="1638.7" x2="1638.7" y1="590.4" y2="602.4" stroke="#ffa500" stroke-width="10.0"/>
<line x1="1706.2" x2="1706.2" y1="617.6" y2="629.6" stroke="#ffa500" stroke-width="10.0"/>
<line x1="1773.6" x2="1773.6" y1="669.3" y2="685.3" stroke="#ffa500" stroke-width="10.0"/>
<line x1="1841.1" x2="1841.1" y1="704.2" y2="724.2" stroke="#ffa500" stroke-width="10.0"/>
<line x1="1908.5" x2="1908.5" y1="775.0" y2="803.0" stroke="#ffa500" stroke-width="10.0"/>
<line x1="1976.0" x2="1976.0" y1="858.8" y2="898.8" stroke="#ffa500" stroke-width="10.0"/>
<line x1="2043.4" x2="2043.4" y1="925.0" y2="1005.0" stroke="#ffa500" stroke-width="10.0"/>
<line x1="2110.8" x2="2110.8" y1="1064.1" y2="1264.1" stroke="#ffa500" stroke-width="10.0"/>
<line x1="2245.8" x2="2245.8" y1="1064.1" y2="1264.1" stroke="#ffa500" stroke-width="10.0"/>
<line x1="2313.2" x2="2313.2" y1="1064.1" y2="1264.1" stroke="#ffa500" stroke-width="10.0"/>
<line x1="289.7" x2="289.7" y1="312.7" y2="434.7" stroke="#008000" stroke-width="10.0"/>
<line x1="357.1" x2="357.1" y1="289.9" y2="400.7" stroke="#008000" stroke-width="10.0"/>
<line x1="424.6" x2="424.6" y1="332.7" y2="469.7" stroke="#008000" stroke-width="10.0"/>
<line x1="492.1" x2="492.1" y1="412.0" y2="530.0" stroke="#008000" stroke-width="10.0"/>
<line x1="559.5" x2="559.5" y1="562.2" y2="680.2" stroke="#008000" stroke-width="10.0"/>
<line x1="627.0" x2="627.0" y1="485.4" y2="553.4" stroke="#008000" stroke-width="10.0"/>
<line x1="694.4" x2="694.4" y1="465.9" y2="523.3" stroke="#008000" stroke-width="10.0"/>
<line x1="761.9" x2="761.9" y1="427.0" y2="471.8" stroke="#008000" stroke-width="10.0"/>
<line x1="829.3" x2="829.3" y1="495.6" y2="546.6" stroke="#008000" stroke-width="10.0"/>
<line x1="896.8" x2="896.8" y1="504.6" y2="548.6" stroke="#008000" stroke-width="10.0"/>
<line x1="964.2" x2="964.2" y1="511.0" y2="541.0" stroke="#008000" stroke-width="10.0"/>
<line x1="1031.7" x2="1031.7" y1="527.8" y2="551.8" stroke="#008000" stroke-width="10.0"/>
<line x1="1099.1" x2="1099.1" y1="523.5" y2="543.5" stroke="#008000" stroke-width="10.0"/>
<line x1="1166.5" x2="1166.5" y1="552.0" y2="568.0" stroke="#008000" stroke-width="10.0"/>
<line x1="1234.0" x2="1234.0" y1="555.4" y2="571.4" stroke="#008000" stroke-width="10.0"/>
<line x1="1301.5" x2="1301.5" y1="552.0" y2="568.0" stroke="#008000" stroke-width="10.0"/>
<line x1="1368.9" x2="1368.9" y1="542.3" y2="558.3" stroke="#008000" stroke-width="10.0"/>
<line x1="1436.4" x2="1436.4" y1="550.0" y2="566.0" stroke="#008000" stroke-width="10.0"/>
<line x1="1503.8" x2="1503.8" y1="558.8" y2="574.8" stroke="#008000" stroke-width="10.0"/>
<line x1="1571.2" x2="1571.2" y1="562.6" y2="578.6" stroke="#008000" stroke-width="10.0"/>
<line x1="1638.7" x2="1638.7" y1="591.0" y2="607.0" stroke="#008000" stroke-width="10.0"/>
<line x1="1706.2" x2="1706.2" y1="618.8" y2="634.8" stroke="#008000" stroke-width="10.0"/>
<line x1="1773.6" x2="1773.6" y1="667.7" y2="687.7" stroke="#008000" stroke-width="10.0"/>
<line x1="1841.1" x2="1841.1" y1="716.7" y2="740.7" stroke="#008000" stroke-width="10.0"/>
<line x1="1908.5" x2="1908.5" y1="781.3" y2="813.3" stroke="#008000" stroke-width="10.0"/>
<line x1="1976.0" x2="1976.0" y1="841.9" y2="913.9" stroke="#008000" stroke-width="10.0"/>
<line x1="2043.4" x2="2043.4" y1="922.2" y2="1017.2" stroke="#008000" stroke-width="10.0"/>
<line x1="2110.8" x2="2110.8" y1="1044.0" y2="1266.8" stroke="#008000" stroke-width="10.0"/>
<line x1="2245.8" x2="2245.8" y1="1044.0" y2="1266.8" stroke="#008000" stroke-width="10.0"/>
<line x1="2313.2" x2="2313.2" y1="1044.0" y2="1266.8" stroke="#008000" stroke-width="10.0"/>
<polygon points="289.7,397.2 271.5,432.8 307.9,432.8" fill="#ff0000"/>
<polygon points="357.1,370.6 338.9,406.2 375.3,406.2" fill="#ff0000"/>
<polygon points="424.6,428.4 406.4,464.0 442.8,464.0" fill="#ff0000"/>
<polygon points="492.1,424.2 473.9,459.8 510.2,459.8" fill="#ff0000"/>
<polygon points="559.5,443.0 541.3,478.6 577.7,478.6" fill="#ff0000"/>
<polygon points="627.0,451.3 608.8,486.9 645.2,486.9" fill="#ff0000"/>
<polygon points="694.4,452.8 676.2,488.4 712.6,488.4" fill="#ff0000"/>
<polygon points="761.9,468.9 743.6,504.5 780.1,504.5" fill="#ff0000"/>
<polygon points="829.3,499.8 811.1,535.4 847.5,535.4" fill="#ff0000"/>
<polygon points="896.8,490.7 878.5,526.3 915.0,526.3" fill="#ff0000"/>
<polygon points="964.2,495.2 946.0,530.8 982.4,530.8" fill="#ff0000"/>
<polygon points="1031.7,501.8 1013.5,537.4 1049.9,537.4" fill="#ff0000"/>
<polygon points="1099.1,523.4 1080.9,559.0 1117.3,559.0" fill="#ff0000"/>
<polygon points="1166.5,528.2 1148.3,563.8 1184.8,563.8" fill="#ff0000"/>
<polygon points="1234.0,536.7 1215.8,572.3 1252.2,572.3" fill="#ff0000"/>
<polygon points="1301.5,545.2 1283.2,580.8 1319.7,580.8" fill="#ff0000"/>
<polygon points="1368.9,549.2 1350.7,584.8 1387.1,584.8" fill="#ff0000"/>
<polygon points="1436.4,563.2 1418.2,598.8 1454.6,598.8" fill="#ff0000"/>
<polygon points="1503.8,575.5 1485.6,611.1 1522.0,611.1" fill="#ff0000"/>
<polygon points="1571.2,589.6 1553.0,625.2 1589.5,625.2" fill="#ff0000"/>
<polygon points="1638.7,611.2 1620.5,646.8 1656.9,646.8" fill="#ff0000"/>
<polygon points="1706.2,633.4 1688.0,669.0 1724.4,669.0" fill="#ff0000"/>
<polygon points="1773.6,681.2 1755.4,716.8 1791.8,716.8" fill="#ff0000"/>
<polygon points="1841.1,741.3 1822.9,776.9 1859.3,776.9" fill="#ff0000"/>
<polygon points="1908.5,809.7 1890.3,845.3 1926.7,845.3" fill="#ff0000"/>
<polygon points="1976.0,903.0 1957.8,938.6 1994.2,938.6" fill="#ff0000"/>
<polygon points="2043.4,1016.3 2025.2,1051.9 2061.6,1051.9" fill="#ff0000"/>
<polygon points="2110.8,1128.9 2092.7,1164.5 2129.0,1164.5" fill="#ff0000"/>
<polygon points="2178.3,1342.1 2160.1,1377.7 2196.5,1377.7" fill="#ff0000"/>
<polygon points="2245.8,1269.9 2227.6,1305.5 2263.9,1305.5" fill="#ff0000"/>
<polygon points="2313.2,1342.1 2295.0,1377.7 2331.4,1377.7" fill="#ff0000"/>
<polygon points="289.7,343.9 313.9,368.2 289.7,392.4 265.4,368.2" fill="#ffa500"/>
<polygon points="357.1,371.4 381.4,395.7 357.1,419.9 332.9,395.7" fill="#ffa500"/>
<polygon points="424.6,402.2 448.9,426.5 424.6,450.8 400.4,426.5" fill="#ffa500"/>
<polygon points="492.1,453.1 516.3,477.3 492.1,501.6 467.8,477.3" fill="#ffa500"/>
<polygon points="559.5,431.9 583.8,456.2 559.5,480.4 535.2,456.2" fill="#ffa500"/>
<polygon points="627.0,459.1 651.2,483.3 627.0,507.6 602.7,483.3" fill="#ffa500"/>
<polygon points="694.4,443.4 718.7,467.7 694.4,491.9 670.2,467.7" fill="#ffa500"/>
<polygon points="761.9,484.2 786.1,508.5 761.9,532.8 737.6,508.5" fill="#ffa500"/>
<polygon points="829.3,494.1 853.5,518.4 829.3,542.6 805.0,518.4" fill="#ffa500"/>
<polygon points="896.8,485.4 921.0,509.6 896.8,533.9 872.5,509.6" fill="#ffa500"/>
<polygon points="964.2,476.6 988.5,500.8 964.2,525.0 940.0,500.8" fill="#ffa500"/>
<polygon points="1031.7,461.1 1055.9,485.4 1031.7,509.6 1007.4,485.4" fill="#ffa500"/>
<polygon points="1099.1,492.1 1123.4,516.4 1099.1,540.6 1074.9,516.4" fill="#ffa500"/>
<polygon points="1166.5,515.1 1190.8,539.4 1166.5,563.6 1142.3,539.4" fill="#ffa500"/>
<polygon points="1234.0,526.0 1258.2,550.3 1234.0,574.5 1209.8,550.3" fill="#ffa500"/>
<polygon points="1301.5,524.0 1325.7,548.3 1301.5,572.5 1277.2,548.3" fill="#ffa500"/>
<polygon points="1368.9,523.5 1393.2,547.7 1368.9,572.0 1344.7,547.7" fill="#ffa500"/>
<polygon points="1436.4,533.5 1460.6,557.7 1436.4,582.0 1412.1,557.7" fill="#ffa500"/>
<polygon points="1503.8,539.8 1528.1,564.0 1503.8,588.2 1479.6,564.0" fill="#ffa500"/>
<polygon points="1571.2,544.2 1595.5,568.5 1571.2,592.8 1547.0,568.5" fill="#ffa500"/>
<polygon points="1638.7,572.1 1663.0,596.4 1638.7,620.6 1614.5,596.4" fill="#ffa500"/>
<polygon points="1706.2,599.4 1730.4,623.6 1706.2,647.9 1681.9,623.6" fill="#ffa500"/>
<polygon points="1773.6,653.0 1797.9,677.3 1773.6,701.5 1749.4,677.3" fill="#ffa500"/>
<polygon points="1841.1,690.0 1865.3,714.2 1841.1,738.5 1816.8,714.2" fill="#ffa500"/>
<polygon points="1908.5,764.8 1932.8,789.0 1908.5,813.2 1884.3,789.0" fill="#ffa500"/>
<polygon points="1976.0,854.5 2000.2,878.8 1976.0,903.0 1951.7,878.8" fill="#ffa500"/>
<polygon points="2043.4,940.8 2067.7,965.0 2043.4,989.2 2019.2,965.0" fill="#ffa500"/>
<polygon points="2110.8,1139.8 2135.1,1164.1 2110.8,1188.3 2086.6,1164.1" fill="#ffa500"/>
<polygon points="2245.8,1139.8 2270.0,1164.1 2245.8,1188.3 2221.5,1164.1" fill="#ffa500"/>
<polygon points="2313.2,1139.8 2337.4,1164.1 2313.2,1188.3 2288.9,1164.1" fill="#ffa500"/>
<polygon points="283.6,361.4 289.7,367.6 295.8,361.4 301.9,367.6 295.8,373.7 301.9,379.8 295.8,385.9 289.7,379.8 283.6,385.9 277.4,379.8 283.6,373.7 277.4,367.6" fill="#008000" stroke="#008000" stroke-width="7.2" stroke-linejoin="miter"/>
<polygon points="351.0,333.1 357.1,339.2 363.3,333.1 369.4,339.2 363.3,345.3 369.4,351.4 363.3,357.6 357.1,351.4 351.0,357.6 344.9,351.4 351.0,345.3 344.9,339.2" fill="#008000" stroke="#008000" stroke-width="7.2" stroke-linejoin="miter"/>
<polygon points="418.5,388.9 424.6,395.1 430.7,388.9 436.9,395.1 430.7,401.2 436.9,407.3 430.7,413.4 424.6,407.3 418.5,413.4 412.4,407.3 418.5,401.2 412.4,395.1" fill="#008000" stroke="#008000" stroke-width="7.2" stroke-linejoin="miter"/>
<polygon points="485.9,458.8 492.1,464.9 498.2,458.8 504.3,464.9 498.2,471.0 504.3,477.1 498.2,483.2 492.1,477.1 485.9,483.2 479.8,477.1 485.9,471.0 479.8,464.9" fill="#008000" stroke="#008000" stroke-width="7.2" stroke-linejoin="miter"/>
<polygon points="553.4,609.0 559.5,615.1 565.6,609.0 571.8,615.1 565.6,621.2 571.8,627.3 565.6,633.5 559.5,627.3 553.4,633.5 547.2,627.3 553.4,621.2 547.2,615.1" fill="#008000" stroke="#008000" stroke-width="7.2" stroke-linejoin="miter"/>
<polygon points="620.8,507.1 627.0,513.3 633.1,507.1 639.2,513.3 633.1,519.4 639.2,525.5 633.1,531.6 627.0,525.5 620.8,531.6 614.7,525.5 620.8,519.4 614.7,513.3" fill="#008000" stroke="#008000" stroke-width="7.2" stroke-linejoin="miter"/>
<polygon points="688.3,482.4 694.4,488.5 700.5,482.4 706.7,488.5 700.5,494.6 706.7,500.7 700.5,506.9 694.4,500.7 688.3,506.9 682.2,500.7 688.3,494.6 682.2,488.5" fill="#008000" stroke="#008000" stroke-width="7.2" stroke-linejoin="miter"/>
<polygon points="755.7,437.1 761.9,443.3 768.0,437.1 774.1,443.3 768.0,449.4 774.1,455.5 768.0,461.6 761.9,455.5 755.7,461.6 749.6,455.5 755.7,449.4 749.6,443.3" fill="#008000" stroke="#008000" stroke-width="7.2" stroke-linejoin="miter"/>
<polygon points="823.2,508.9 829.3,515.0 835.4,508.9 841.5,515.0 835.4,521.1 841.5,527.2 835.4,533.4 829.3,527.2 823.2,533.4 817.0,527.2 823.2,521.1 817.0,515.0" fill="#008000" stroke="#008000" stroke-width="7.2" stroke-linejoin="miter"/>
<polygon points="890.6,514.4 896.8,520.5 902.9,514.4 909.0,520.5 902.9,526.6 909.0,532.7 902.9,538.9 896.8,532.7 890.6,538.9 884.5,532.7 890.6,526.6 884.5,520.5" fill="#008000" stroke="#008000" stroke-width="7.2" stroke-linejoin="miter"/>
<polygon points="958.1,513.8 964.2,519.9 970.3,513.8 976.5,519.9 970.3,526.0 976.5,532.1 970.3,538.2 964.2,532.1 958.1,538.2 952.0,532.1 958.1,526.0 952.0,519.9" fill="#008000" stroke="#008000" stroke-width="7.2" stroke-linejoin="miter"/>
<polygon points="1025.5,527.5 1031.7,533.7 1037.8,527.5 1043.9,533.7 1037.8,539.8 1043.9,545.9 1037.8,552.0 1031.7,545.9 1025.5,552.0 1019.4,545.9 1025.5,539.8 1019.4,533.7" fill="#008000" stroke="#008000" stroke-width="7.2" stroke-linejoin="miter"/>
<polygon points="1093.0,521.2 1099.1,527.4 1105.2,521.2 1111.4,527.4 1105.2,533.5 1111.4,539.6 1105.2,545.8 1099.1,539.6 1093.0,545.8 1086.9,539.6 1093.0,533.5 1086.9,527.4" fill="#008000" stroke="#008000" stroke-width="7.2" stroke-linejoin="miter"/>
<polygon points="1160.4,547.8 1166.5,553.9 1172.7,547.8 1178.8,553.9 1172.7,560.0 1178.8,566.1 1172.7,572.2 1166.5,566.1 1160.4,572.2 1154.3,566.1 1160.4,560.0 1154.3,553.9" fill="#008000" stroke="#008000" stroke-width="7.2" stroke-linejoin="miter"/>
<polygon points="1227.9,551.1 1234.0,557.3 1240.1,551.1 1246.2,557.3 1240.1,563.4 1246.2,569.5 1240.1,575.6 1234.0,569.5 1227.9,575.6 1221.8,569.5 1227.9,563.4 1221.8,557.3" fill="#008000" stroke="#008000" stroke-width="7.2" stroke-linejoin="miter"/>
<polygon points="1295.3,547.8 1301.5,553.9 1307.6,547.8 1313.7,553.9 1307.6,560.0 1313.7,566.1 1307.6,572.2 1301.5,566.1 1295.3,572.2 1289.2,566.1 1295.3,560.0 1289.2,553.9" fill="#008000" stroke="#008000" stroke-width="7.2" stroke-linejoin="miter"/>
<polygon points="1362.8,538.0 1368.9,544.2 1375.0,538.0 1381.2,544.2 1375.0,550.3 1381.2,556.4 1375.0,562.5 1368.9,556.4 1362.8,562.5 1356.7,556.4 1362.8,550.3 1356.7,544.2" fill="#008000" stroke="#008000" stroke-width="7.2" stroke-linejoin="miter"/>
<polygon points="1430.2,545.8 1436.4,551.9 1442.5,545.8 1448.6,551.9 1442.5,558.0 1448.6,564.1 1442.5,570.2 1436.4,564.1 1430.2,570.2 1424.1,564.1 1430.2,558.0 1424.1,551.9" fill="#008000" stroke="#008000" stroke-width="7.2" stroke-linejoin="miter"/>
<polygon points="1497.7,554.5 1503.8,560.7 1509.9,554.5 1516.1,560.7 1509.9,566.8 1516.1,572.9 1509.9,579.0 1503.8,572.9 1497.7,579.0 1491.6,572.9 1497.7,566.8 1491.6,560.7" fill="#008000" stroke="#008000" stroke-width="7.2" stroke-linejoin="miter"/>
<polygon points="1565.1,558.4 1571.2,564.5 1577.4,558.4 1583.5,564.5 1577.4,570.6 1583.5,576.7 1577.4,582.9 1571.2,576.7 1565.1,582.9 1559.0,576.7 1565.1,570.6 1559.0,564.5" fill="#008000" stroke="#008000" stroke-width="7.2" stroke-linejoin="miter"/>
<polygon points="1632.6,586.8 1638.7,592.9 1644.8,586.8 1651.0,592.9 1644.8,599.0 1651.0,605.1 1644.8,611.2 1638.7,605.1 1632.6,611.2 1626.5,605.1 1632.6,599.0 1626.5,592.9" fill="#008000" stroke="#008000" stroke-width="7.2" stroke-linejoin="miter"/>
<polygon points="1700.0,614.5 1706.2,620.7 1712.3,614.5 1718.4,620.7 1712.3,626.8 1718.4,632.9 1712.3,639.0 1706.2,632.9 1700.0,639.0 1693.9,632.9 1700.0,626.8 1693.9,620.7" fill="#008000" stroke="#008000" stroke-width="7.2" stroke-linejoin="miter"/>
<polygon points="1767.5,665.5 1773.6,671.6 1779.7,665.5 1785.9,671.6 1779.7,677.7 1785.9,683.8 1779.7,690.0 1773.6,683.8 1767.5,690.0 1761.4,683.8 1767.5,677.7 1761.4,671.6" fill="#008000" stroke="#008000" stroke-width="7.2" stroke-linejoin="miter"/>
<polygon points="1834.9,716.5 1841.1,722.6 1847.2,716.5 1853.3,722.6 1847.2,728.7 1853.3,734.8 1847.2,741.0 1841.1,734.8 1834.9,741.0 1828.8,734.8 1834.9,728.7 1828.8,722.6" fill="#008000" stroke="#008000" stroke-width="7.2" stroke-linejoin="miter"/>
<polygon points="1902.4,785.0 1908.5,791.2 1914.6,785.0 1920.8,791.2 1914.6,797.3 1920.8,803.4 1914.6,809.5 1908.5,803.4 1902.4,809.5 1896.3,803.4 1902.4,797.3 1896.3,791.2" fill="#008000" stroke="#008000" stroke-width="7.2" stroke-linejoin="miter"/>
<polygon points="1969.8,865.6 1976.0,871.8 1982.1,865.6 1988.2,871.8 1982.1,877.9 1988.2,884.0 1982.1,890.1 1976.0,884.0 1969.8,890.1 1963.7,884.0 1969.8,877.9 1963.7,871.8" fill="#008000" stroke="#008000" stroke-width="7.2" stroke-linejoin="miter"/>
<polygon points="2037.3,957.5 2043.4,963.6 2049.5,957.5 2055.7,963.6 2049.5,969.7 2055.7,975.8 2049.5,982.0 2043.4,975.8 2037.3,982.0 2031.2,975.8 2037.3,969.7 2031.2,963.6" fill="#008000" stroke="#008000" stroke-width="7.2" stroke-linejoin="miter"/>
<polygon points="2104.7,1143.2 2110.8,1149.3 2117.0,1143.2 2123.1,1149.3 2117.0,1155.4 2123.1,1161.5 2117.0,1167.7 2110.8,1161.5 2104.7,1167.7 2098.6,1161.5 2104.7,1155.4 2098.6,1149.3" fill="#008000" stroke="#008000" stroke-width="7.2" stroke-linejoin="miter"/>
<polygon points="2239.6,1143.2 2245.8,1149.3 2251.9,1143.2 2258.0,1149.3 2251.9,1155.4 2258.0,1161.5 2251.9,1167.7 2245.8,1161.5 2239.6,1167.7 2233.5,1161.5 2239.6,1155.4 2233.5,1149.3" fill="#008000" stroke="#008000" stroke-width="7.2" stroke-linejoin="miter"/>
<polygon points="2307.1,1143.2 2313.2,1149.3 2319.3,1143.2 2325.4,1149.3 2319.3,1155.4 2325.4,1161.5 2319.3,1167.7 2313.2,1161.5 2307.1,1167.7 2300.9,1161.5 2307.1,1155.4 2300.9,1149.3" fill="#008000" stroke="#008000" stroke-width="7.2" stroke-linejoin="miter"/>
</g>
<rect x="279.4" y="43.5" width="2203.2" height="1534.1" fill="none" stroke="#000" stroke-width="5.0"/>
<g clip-path="url(#ax)">
<line x1="2126.9" x2="2126.9" y1="1094.3" y2="1118.3" stroke="#0000ff" stroke-width="10.0"/>
<line x1="2194.4" x2="2194.4" y1="1207.5" y2="1268.9" stroke="#0000ff" stroke-width="10.0"/>
<line x1="2261.8" x2="2261.8" y1="1291.5" y2="1393.5" stroke="#0000ff" stroke-width="10.0"/>
<line x1="2329.2" x2="2329.2" y1="1312.2" y2="1430.8" stroke="#0000ff" stroke-width="10.0"/>
<line x1="2396.6" x2="2396.6" y1="1380.9" y2="1587.9" stroke="#0000ff" stroke-width="10.0"/>
<circle cx="306.6" cy="344.7" r="16.9" fill="#0000ff"/>
<circle cx="374.0" cy="357.6" r="16.9" fill="#0000ff"/>
<circle cx="441.4" cy="375.2" r="16.9" fill="#0000ff"/>
<circle cx="508.9" cy="393.0" r="16.9" fill="#0000ff"/>
<circle cx="576.3" cy="410.9" r="16.9" fill="#0000ff"/>
<circle cx="643.7" cy="426.0" r="16.9" fill="#0000ff"/>
<circle cx="711.1" cy="438.9" r="16.9" fill="#0000ff"/>
<circle cx="778.5" cy="455.0" r="16.9" fill="#0000ff"/>
<circle cx="846.0" cy="467.7" r="16.9" fill="#0000ff"/>
<circle cx="913.4" cy="480.7" r="16.9" fill="#0000ff"/>
<circle cx="980.8" cy="494.0" r="16.9" fill="#0000ff"/>
<circle cx="1048.2" cy="509.0" r="16.9" fill="#0000ff"/>
<circle cx="1115.6" cy="523.7" r="16.9" fill="#0000ff"/>
<circle cx="1183.1" cy="537.8" r="16.9" fill="#0000ff"/>
<circle cx="1250.5" cy="548.1" r="16.9" fill="#0000ff"/>
<circle cx="1317.9" cy="559.0" r="16.9" fill="#0000ff"/>
<circle cx="1385.3" cy="565.6" r="16.9" fill="#0000ff"/>
<circle cx="1452.7" cy="575.9" r="16.9" fill="#0000ff"/>
<circle cx="1520.2" cy="583.9" r="16.9" fill="#0000ff"/>
<circle cx="1587.6" cy="588.9" r="16.9" fill="#0000ff"/>
<circle cx="1655.0" cy="591.9" r="16.9" fill="#0000ff"/>
<circle cx="1722.4" cy="605.0" r="16.9" fill="#0000ff"/>
<circle cx="1789.8" cy="642.4" r="16.9" fill="#0000ff"/>
<circle cx="1857.3" cy="744.8" r="16.9" fill="#0000ff"/>
<circle cx="1924.7" cy="844.5" r="16.9" fill="#0000ff"/>
<circle cx="1992.1" cy="940.8" r="16.9" fill="#0000ff"/>
<circle cx="2059.5" cy="1028.4" r="16.9" fill="#0000ff"/>
<circle cx="2126.9" cy="1106.3" r="16.9" fill="#0000ff"/>
<circle cx="2194.4" cy="1238.2" r="16.9" fill="#0000ff"/>
<circle cx="2261.8" cy="1342.5" r="16.9" fill="#0000ff"/>
<circle cx="2329.2" cy="1371.5" r="16.9" fill="#0000ff"/>
<circle cx="2396.6" cy="1484.4" r="16.9" fill="#0000ff"/>
</g>
<text x="502.6" y="1663.5" font-size="81.5" text-anchor="middle" font-family="DejaVu Serif, Liberation Serif, serif">8</text>
<text x="952.5" y="1663.5" font-size="81.5" text-anchor="middle" font-family="DejaVu Serif, Liberation Serif, serif">9</text>
<text x="1401.5" y="1663.5" font-size="81.5" text-anchor="middle" letter-spacing="-2" font-family="DejaVu Serif, Liberation Serif, serif">10</text>
<text x="1851.3" y="1663.5" font-size="81.5" text-anchor="middle" letter-spacing="-2" font-family="DejaVu Serif, Liberation Serif, serif">11</text>
<text x="2301.2" y="1663.5" font-size="81.5" text-anchor="middle" letter-spacing="-2" font-family="DejaVu Serif, Liberation Serif, serif">12</text>
<text x="254.6" y="73.5" font-size="81.5" text-anchor="end" font-family="DejaVu Serif, Liberation Serif, serif">0</text>
<text x="254.6" y="309.8" font-size="81.5" text-anchor="end" font-family="DejaVu Serif, Liberation Serif, serif">1</text>
<text x="135.5" y="309.8" font-size="81.5" font-family="DejaVu Serif, Liberation Serif, serif">−</text>
<text x="254.6" y="546.1" font-size="81.5" text-anchor="end" font-family="DejaVu Serif, Liberation Serif, serif">2</text>
<text x="135.5" y="546.1" font-size="81.5" font-family="DejaVu Serif, Liberation Serif, serif">−</text>
<text x="254.6" y="782.4" font-size="81.5" text-anchor="end" font-family="DejaVu Serif, Liberation Serif, serif">3</text>
<text x="135.5" y="782.4" font-size="81.5" font-family="DejaVu Serif, Liberation Serif, serif">−</text>
<text x="254.6" y="1018.7" font-size="81.5" text-anchor="end" font-family="DejaVu Serif, Liberation Serif, serif">4</text>
<text x="135.5" y="1018.7" font-size="81.5" font-family="DejaVu Serif, Liberation Serif, serif">−</text>
<text x="254.6" y="1255.0" font-size="81.5" text-anchor="end" font-family="DejaVu Serif, Liberation Serif, serif">5</text>
<text x="135.5" y="1255.0" font-size="81.5" font-family="DejaVu Serif, Liberation Serif, serif">−</text>
<text x="254.6" y="1491.3" font-size="81.5" text-anchor="end" font-family="DejaVu Serif, Liberation Serif, serif">6</text>
<text x="135.5" y="1491.3" font-size="81.5" font-family="DejaVu Serif, Liberation Serif, serif">−</text>
<text x="1127.8" y="1774.5" font-size="81.0" font-family="DejaVu Sans, Liberation Sans, sans-serif">log</text>
<text x="1291.5" y="1774.5" font-size="82.0" font-family="DejaVu Serif, Liberation Serif, serif">M</text>
<text x="1376.5" y="1786.5" font-size="53" font-family="DejaVu Sans, Liberation Sans, sans-serif">⋆</text>
<text x="1440" y="1774.5" font-size="82.0" font-family="DejaVu Serif, Liberation Serif, serif">[M</text>
<text x="1555" y="1786.5" font-size="58.5" font-family="DejaVu Sans, Liberation Sans, sans-serif">⊙</text>
<text x="1604.5" y="1774.5" font-size="82.0" font-family="DejaVu Serif, Liberation Serif, serif">]</text>
<text transform="translate(83.4,1229.0) rotate(-90)" font-size="81.0" font-family="DejaVu Sans, Liberation Sans, sans-serif">log</text>
<text transform="translate(83.4,1067.5) rotate(-90)" font-size="81.0" font-family="DejaVu Sans, Liberation Sans, sans-serif">Φ</text>
<text transform="translate(83.4,980.0) rotate(-90)" font-size="82.0" font-family="DejaVu Serif, Liberation Serif, serif">[M</text>
<text transform="translate(83.4,862.0) rotate(-90)" font-size="82.0" font-family="DejaVu Serif, Liberation Serif, serif">pc</text>
<text transform="translate(53.400000000000006,764.5) rotate(-90)" font-size="57" font-family="DejaVu Serif, Liberation Serif, serif">−3</text>
<text transform="translate(83.4,651.0) rotate(-90)" font-size="82.0" font-family="DejaVu Serif, Liberation Serif, serif">dex</text>
<text transform="translate(53.400000000000006,505.5) rotate(-90)" font-size="57" font-family="DejaVu Serif, Liberation Serif, serif">−1</text>
<text transform="translate(83.4,420.0) rotate(-90)" font-size="82.0" font-family="DejaVu Serif, Liberation Serif, serif">]</text>
<rect x="1827.2" y="67.2" width="630" height="429.6" rx="9" ry="9" fill="#fff" stroke="#d6d6d6" stroke-width="6.5"/>
<text x="1977" y="123.2" font-size="49" letter-spacing="-1.03" font-family="DejaVu Serif, Liberation Serif, serif">Baldry et al. (2012)</text>
<text x="1977" y="191.1" font-size="49" letter-spacing="-1.0" font-family="DejaVu Serif, Liberation Serif, serif">Driver et al. (2022)</text>
<text x="1977" y="261.2" font-size="49" letter-spacing="-1.7" font-family="DejaVu Serif, Liberation Serif, serif">SHARK</text>
<text x="1977" y="330.5" font-size="49" letter-spacing="-1.2" font-family="DejaVu Serif, Liberation Serif, serif">SGP - 2dF</text>
<text x="1977" y="399.5" font-size="49" letter-spacing="-1.35" font-family="DejaVu Serif, Liberation Serif, serif">G23 - GAMA</text>
<text x="1977" y="468.5" font-size="49" letter-spacing="-1.27" font-family="DejaVu Serif, Liberation Serif, serif">G23 - 2dF</text>
<line x1="1845" x2="1939.5" y1="105.7" y2="105.7" stroke="#000" stroke-width="17" stroke-dasharray="63 27"/>
<line x1="1845" x2="1939.5" y1="173.6" y2="173.6" stroke="#a9a9a9" stroke-width="17" stroke-dasharray="63 27"/>
<line x1="1892.6" x2="1892.6" y1="220.7" y2="266.7" stroke="#0000ff" stroke-width="10.0"/>
<line x1="1892.6" x2="1892.6" y1="290" y2="336" stroke="#ff0000" stroke-width="10.0"/>
<line x1="1892.6" x2="1892.6" y1="359" y2="405" stroke="#ffa500" stroke-width="10.0"/>
<line x1="1892.6" x2="1892.6" y1="428" y2="474" stroke="#008000" stroke-width="10.0"/>
<circle cx="1892.6" cy="243.7" r="16.9" fill="#0000ff"/>
<polygon points="1892.6,295.2 1874.4,330.8 1910.8,330.8" fill="#ff0000"/>
<polygon points="1892.6,357.8 1916.8,382.0 1892.6,406.2 1868.3,382.0" fill="#ffa500"/>
<polygon points="1886.5,438.8 1892.6,444.9 1898.7,438.8 1904.8,444.9 1898.7,451.0 1904.8,457.1 1898.7,463.2 1892.6,457.1 1886.5,463.2 1880.3,457.1 1886.5,451.0 1880.3,444.9" fill="#008000" stroke="#008000" stroke-width="7.2" stroke-linejoin="miter"/>
</svg></body></html>
